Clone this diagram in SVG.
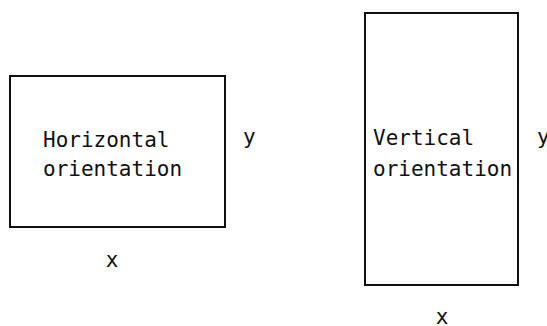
<svg xmlns="http://www.w3.org/2000/svg" width="547" height="326" viewBox="0 0 547 326">
<style>
.box{fill:#fff;stroke:#111;stroke-width:2}
.t{font-family:"DejaVu Sans Mono","Liberation Mono",monospace;font-size:21px;fill:#111}
</style>
<rect width="547" height="326" fill="#fff"/>
<g id="horizontal">
<rect class="box" x="10" y="76" width="215" height="151"/>
<text class="t" x="43" y="147">Horizontal</text>
<text class="t" x="43" y="176">orientation</text>
</g>
<g id="horizontal-y"><text class="t" x="243" y="144">y</text></g>
<g id="horizontal-x"><text class="t" x="112" y="267" text-anchor="middle">x</text></g>
<g id="vertical">
<rect class="box" x="365" y="13" width="153" height="272"/>
<text class="t" x="373" y="145">Vertical</text>
<text class="t" x="373" y="176">orientation</text>
</g>
<g id="vertical-y"><text class="t" x="537" y="144">y</text></g>
<g id="vertical-x"><text class="t" x="442" y="324" text-anchor="middle">x</text></g>
<g id="connectors"/>
</svg>
